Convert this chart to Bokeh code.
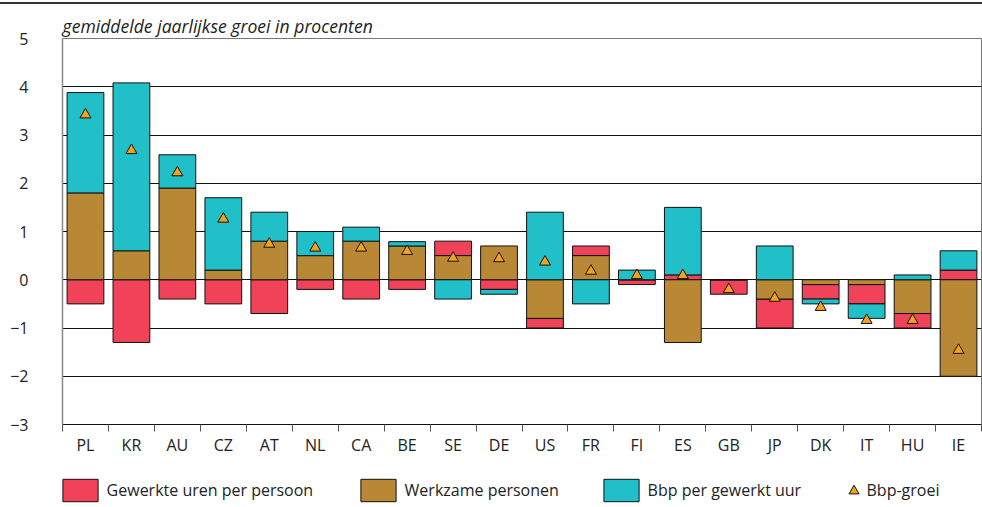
from bokeh.plotting import figure
from bokeh.layouts import column
from bokeh.models import Range1d, FixedTicker, Legend, LegendItem
from bokeh.embed import file_html
from bokeh.resources import INLINE

# ---- data ----
countries = ["PL", "KR", "AU", "CZ", "AT", "NL", "CA", "BE", "SE", "DE",
             "US", "FR", "FI", "ES", "GB", "JP", "DK", "IT", "HU", "IE"]
uren_per_persoon = [-0.5, -1.3, -0.4, -0.5, -0.7, -0.2, -0.4, -0.2, 0.3, -0.2,
                    -0.2, 0.2, -0.1, 0.1, -0.3, -0.6, -0.3, -0.4, -0.3, 0.2]
werkzame_personen = [1.8, 0.6, 1.9, 0.2, 0.8, 0.5, 0.8, 0.7, 0.5, 0.7,
                     -0.8, 0.5, 0.0, -1.3, 0.0, -0.4, -0.1, -0.1, -0.7, -2.0]
bbp_per_uur = [2.08, 3.48, 0.69, 1.5, 0.6, 0.5, 0.29, 0.09, -0.4, -0.1,
               1.4, -0.5, 0.2, 1.4, 0.0, 0.7, -0.1, -0.3, 0.1, 0.4]
bbp_groei = [3.42, 2.68, 2.22, 1.26, 0.74, 0.66, 0.66, 0.59, 0.45, 0.44,
             0.37, 0.18, 0.09, 0.09, -0.2, -0.38, -0.57, -0.84, -0.84, -1.46]
series_names = ["Gewerkte uren per persoon", "Werkzame personen",
                "Bbp per gewerkt uur", "Bbp-groei"]
y_ticks = [-3, -2, -1, 0, 1, 2, 3, 4, 5]

RED = "#F04359"
BROWN = "#B98834"
CYAN = "#21BFC8"
ORANGE = "#F7A11A"
FONT = "Open Sans"

n = len(countries)
xs = [i + 0.5 for i in range(n)]

# stack order (both directions): personen, uren, bbp
pos = [0.0] * n
neg = [0.0] * n
bounds = {}
for key, vals in [("personen", werkzame_personen), ("uren", uren_per_persoon),
                  ("bbp", bbp_per_uur)]:
    b, t = [], []
    for i, v in enumerate(vals):
        if v >= 0:
            b.append(pos[i]); pos[i] += v; t.append(pos[i])
        else:
            t.append(neg[i]); neg[i] += v; b.append(neg[i])
    bounds[key] = (b, t)

p = figure(width=982, height=466, output_backend="svg", toolbar_location=None,
           x_range=Range1d(0, n), y_range=Range1d(-3, 5),
           min_border_left=62, min_border_right=1, min_border_top=34,
           min_border_bottom=46)
p.styles = {"margin-top": "2px", "border-top": "2px solid #333"}

p.title.text = "gemiddelde jaarlijkse groei in procenten"
p.title.text_font = FONT
p.title.text_font_style = "italic"
p.title.text_font_size = "17.6px"
p.title.text_color = "#222"
p.title.align = "left"
p.title.offset = 0
p.title.standoff = 2

p.outline_line_color = "#777"
p.outline_line_width = 1
p.xgrid.grid_line_color = None
p.ygrid.ticker = FixedTicker(ticks=y_ticks)
p.ygrid.grid_line_color = "#111"
p.ygrid.grid_line_width = 1

# x axis: labels at centres, tick marks at boundaries
p.xaxis.ticker = FixedTicker(ticks=xs, minor_ticks=list(range(n + 1)))
p.xaxis.major_label_overrides = {x: c for x, c in zip(xs, countries)}
p.xaxis.major_tick_out = 0
p.xaxis.major_tick_in = 0
p.xaxis.minor_tick_out = 7
p.xaxis.minor_tick_in = 0
p.xaxis.minor_tick_line_color = "#555"
p.xaxis.axis_line_color = "#111"
p.xaxis.major_label_standoff = 2
p.xaxis.major_label_text_font = FONT
p.xaxis.major_label_text_font_size = "16px"
p.xaxis.major_label_text_color = "#222"

p.yaxis.ticker = FixedTicker(ticks=y_ticks)
p.yaxis.major_label_overrides = {t: (str(t).replace("-", "\u2212")) for t in y_ticks}
p.yaxis.major_tick_out = 0
p.yaxis.major_tick_in = 0
p.yaxis.minor_tick_out = 0
p.yaxis.minor_tick_in = 0
p.yaxis.axis_line_color = "#888"
p.yaxis.axis_line_width = 1.5
p.yaxis.major_label_standoff = 34
p.yaxis.major_label_text_font = FONT
p.yaxis.major_label_text_font_size = "16px"
p.yaxis.major_label_text_color = "#222"

bar_style = dict(line_color="#111", line_width=1)
p.vbar(x=xs, width=0.8, bottom=bounds["uren"][0], top=bounds["uren"][1],
       fill_color=RED, **bar_style)
p.vbar(x=xs, width=0.8, bottom=bounds["personen"][0], top=bounds["personen"][1],
       fill_color=BROWN, **bar_style)
p.vbar(x=xs, width=0.8, bottom=bounds["bbp"][0], top=bounds["bbp"][1],
       fill_color=CYAN, **bar_style)
p.scatter(x=xs, y=bbp_groei, marker="triangle", size=11,
          fill_color=ORANGE, line_color="#111", line_width=1)

# ---- legend strip (separate figure; its data ranges keep the series
#      themselves out of view, only the legend entries show) ----
lp = figure(width=982, height=37, output_backend="svg", toolbar_location=None,
            x_range=Range1d(0, 982), y_range=Range1d(100, 137),
            x_axis_location=None, y_axis_location=None,
            min_border_left=0, min_border_right=0, min_border_top=0,
            min_border_bottom=0)
lp.grid.grid_line_color = None
lp.outline_line_color = None

lr_uren = lp.vbar(x=xs, width=0.8, bottom=bounds["uren"][0], top=bounds["uren"][1],
                  fill_color=RED, **bar_style)
lr_pers = lp.vbar(x=xs, width=0.8, bottom=bounds["personen"][0],
                  top=bounds["personen"][1], fill_color=BROWN, **bar_style)
lr_bbp = lp.vbar(x=xs, width=0.8, bottom=bounds["bbp"][0], top=bounds["bbp"][1],
                 fill_color=CYAN, **bar_style)
lr_groei = lp.scatter(x=xs, y=bbp_groei, marker="triangle", size=10,
                      fill_color=ORANGE, line_color="#111", line_width=1)

def add_legend(label, renderer, loc, gw, gh, standoff):
    lg = Legend(items=[LegendItem(label=label, renderers=[renderer])],
                location=loc, orientation="horizontal",
                glyph_width=gw, glyph_height=gh, label_standoff=standoff,
                padding=0, margin=0, spacing=0,
                border_line_alpha=0, background_fill_alpha=0,
                label_text_font=FONT, label_text_font_size="16px",
                label_text_color="#222")
    lp.add_layout(lg, "center")

# the strip's frame lines up with the chart frame (left edge at 62 px)
add_legend(series_names[0], lr_uren, (-4.4, 1), 44, 28, 5)
add_legend(series_names[1], lr_pers, (293.6, 1), 44, 28, 5)
add_legend(series_names[2], lr_bbp, (536.6, 1), 44, 28, 5)
add_legend(series_names[3], lr_groei, (778.5, 2.5), 25, 25, 1)

layout = column(p, lp, spacing=0)

open("out.html", "w").write(file_html(layout, INLINE))
